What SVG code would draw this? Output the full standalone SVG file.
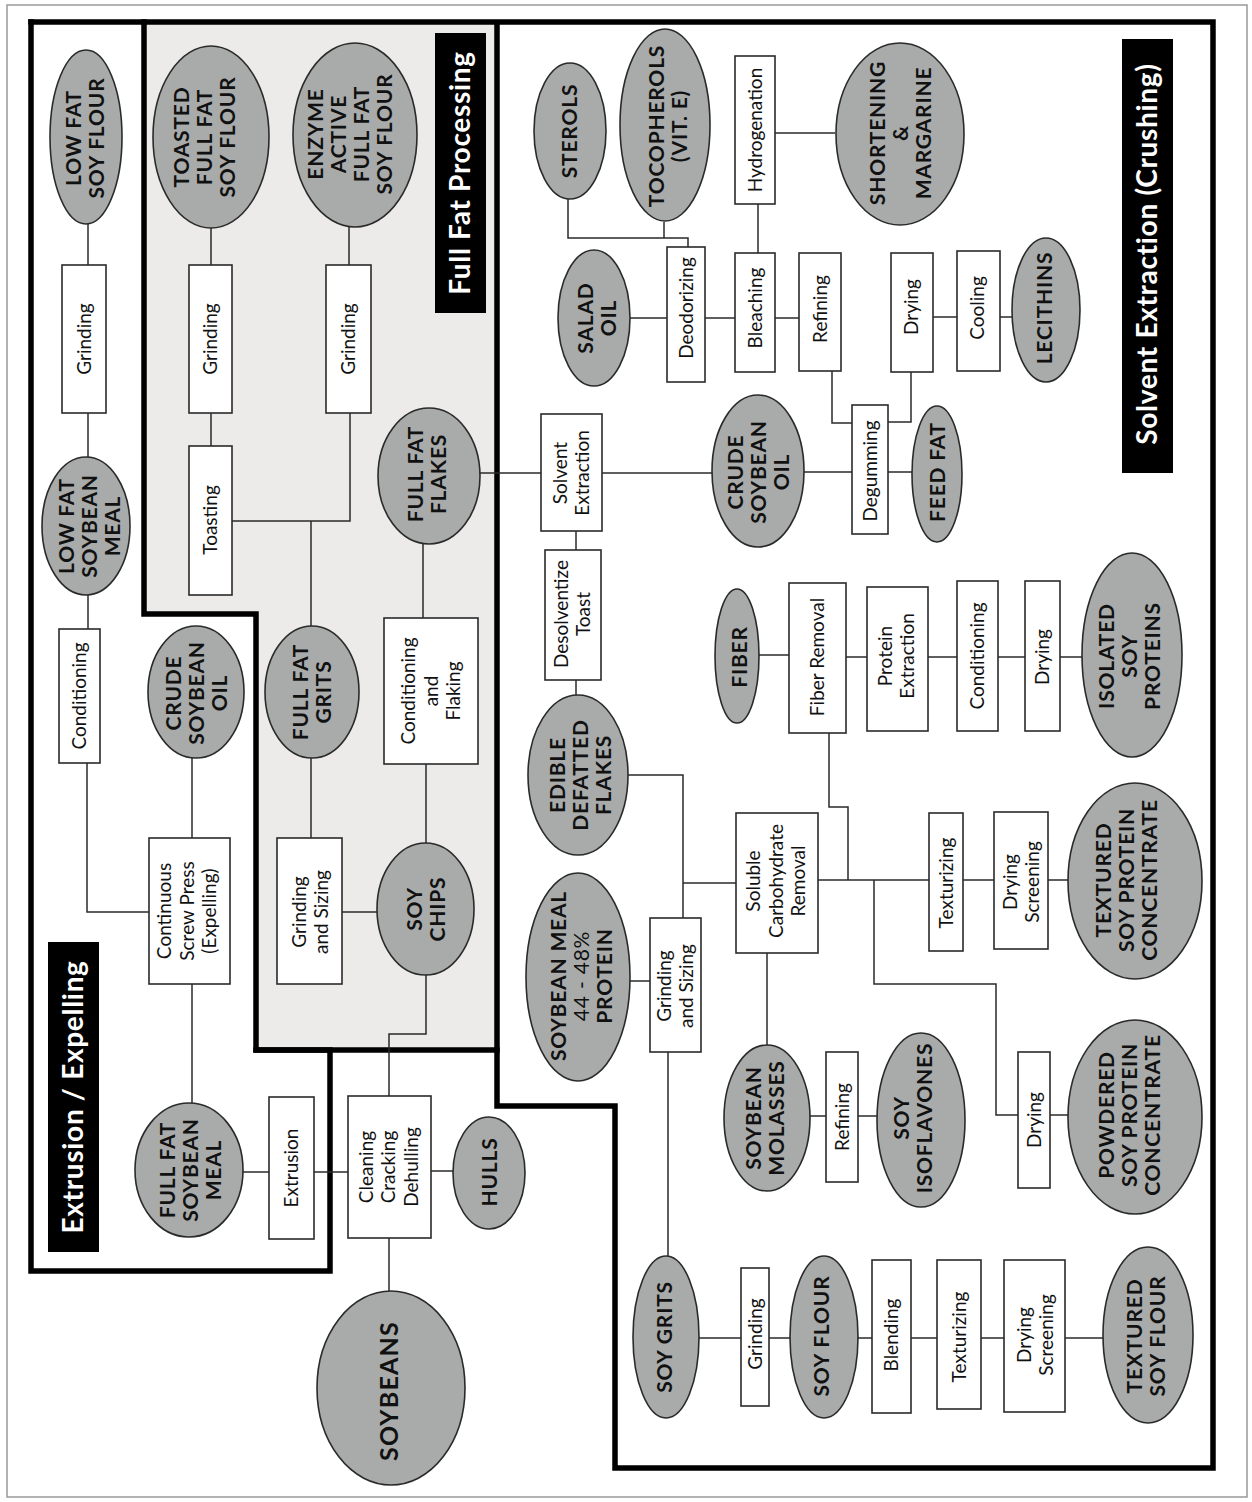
<svg xmlns="http://www.w3.org/2000/svg" width="1252" height="1502" viewBox="0 0 1252 1502">
<style>
.frame{fill:none;stroke:#000;stroke-width:5.5;stroke-linejoin:miter;stroke-linecap:square}
.el{fill:#a8abaa;stroke:#2a2a2a;stroke-width:1.6}
.bx{fill:#fff;stroke:#2a2a2a;stroke-width:1.6}
.c{fill:none;stroke:#2a2a2a;stroke-width:1.5}
.t{font-family:Lato,"Liberation Sans",sans-serif;text-anchor:middle;fill:#111}
.b{font-weight:700;font-size:21px;letter-spacing:0.8px}
.r{font-size:19px}
.ttl{font-family:Lato,"Liberation Sans",sans-serif;text-anchor:middle;font-weight:700;font-size:28px;fill:#fff;letter-spacing:0.7px}
</style>
<rect x="0" y="0" width="1252" height="1502" fill="#fff"/>
<rect x="7" y="5" width="1240" height="1492" fill="none" stroke="#999" stroke-width="1.5"/>
<g id="regions">
<polygon points="144,22 497,22 497,1050 256,1050 256,614 144,614" fill="#ecebe9"/>
<path class="frame" d="M31,22 H1213 V1468 H615 V1106 H497 V22"/>
<path class="frame" d="M144,22 V614 H256 V1050 H497"/>
<path class="frame" d="M256,1050 H330 V1271 H31 V22"/>
</g>
<g id="titles">
<g id="title-fullfat"><rect x="435" y="33" width="51" height="280" fill="#000"/><text class="ttl" transform="translate(460.5 173) rotate(-90)"><tspan x="0" y="9.8">Full Fat Processing</tspan></text></g>
<g id="title-solvent"><rect x="1122" y="39" width="51" height="434" fill="#000"/><text class="ttl" transform="translate(1147.5 254) rotate(-90)"><tspan x="0" y="9.8">Solvent Extraction (Crushing)</tspan></text></g>
<g id="title-extrusion"><rect x="48" y="942" width="51" height="310" fill="#000"/><text class="ttl" transform="translate(73.5 1097) rotate(-90)"><tspan x="0" y="9.8">Extrusion / Expelling</tspan></text></g>
</g>
<g id="connectors">
<polyline class="c" points="88,224 88,265"/>
<polyline class="c" points="88,413 88,457"/>
<polyline class="c" points="88,595 88,629"/>
<polyline class="c" points="87,763 87,912 149,912"/>
<polyline class="c" points="192,758 192,838"/>
<polyline class="c" points="192,984 192,1103"/>
<polyline class="c" points="211,228 211,265"/>
<polyline class="c" points="211,413 211,446"/>
<polyline class="c" points="232,521 350,521 350,413"/>
<polyline class="c" points="311,521 311,627"/>
<polyline class="c" points="349,227 349,265"/>
<polyline class="c" points="311,758 311,838"/>
<polyline class="c" points="342,912 377,912"/>
<polyline class="c" points="426,843 426,764"/>
<polyline class="c" points="423,618 423,543"/>
<polyline class="c" points="426,975 426,1034 389,1034 389,1096"/>
<polyline class="c" points="243,1172 269,1172"/>
<polyline class="c" points="314,1172 348,1172"/>
<polyline class="c" points="431,1171 453,1171"/>
<polyline class="c" points="389,1238 389,1291"/>
<polyline class="c" points="480,473 541,473"/>
<polyline class="c" points="602,473 713,473"/>
<polyline class="c" points="576,531 576,550"/>
<polyline class="c" points="576,680 576,695"/>
<polyline class="c" points="628,775 683,775 683,918"/>
<polyline class="c" points="683,883 736,883"/>
<polyline class="c" points="630,981 650,981"/>
<polyline class="c" points="668,1052 668,1256"/>
<polyline class="c" points="767,953 767,1045"/>
<polyline class="c" points="810,1116 826,1116"/>
<polyline class="c" points="858,1116 877,1116"/>
<polyline class="c" points="818,880 929,880"/>
<polyline class="c" points="829,733 829,807 848,807 848,880"/>
<polyline class="c" points="874,880 874,984 996,984 996,1115 1018,1115"/>
<polyline class="c" points="1050,1115 1069,1115"/>
<polyline class="c" points="963,880 994,880"/>
<polyline class="c" points="1048,880 1068,880"/>
<polyline class="c" points="758,655 789,655"/>
<polyline class="c" points="846,657 867,657"/>
<polyline class="c" points="928,657 957,657"/>
<polyline class="c" points="998,657 1025,657"/>
<polyline class="c" points="1060,657 1082,657"/>
<polyline class="c" points="804,472 852,472"/>
<polyline class="c" points="888,472 912,472"/>
<polyline class="c" points="832,371 832,423 852,423"/>
<polyline class="c" points="911,372 911,422 888,422"/>
<polyline class="c" points="933,317 957,317"/>
<polyline class="c" points="1000,317 1012,317"/>
<polyline class="c" points="630,318 667,318"/>
<polyline class="c" points="705,318 735,318"/>
<polyline class="c" points="775,318 799,318"/>
<polyline class="c" points="758,204 758,253"/>
<polyline class="c" points="775,133 835,133"/>
<polyline class="c" points="568,199 568,238 688,238 688,247"/>
<polyline class="c" points="664,222 664,238"/>
<polyline class="c" points="698,1338 741,1338"/>
<polyline class="c" points="769,1338 790,1338"/>
<polyline class="c" points="857,1338 872,1338"/>
<polyline class="c" points="911,1338 937,1338"/>
<polyline class="c" points="981,1338 1004,1338"/>
<polyline class="c" points="1065,1338 1103,1338"/>
</g>
<g id="n-lowfat-flour"><ellipse class="el" cx="86" cy="137" rx="36" ry="87"/><text class="t b" transform="translate(85 138) rotate(-90)"><tspan x="0" y="-4">LOW FAT</tspan><tspan x="0" y="19">SOY FLOUR</tspan></text></g>
<g id="n-toasted-flour"><ellipse class="el" cx="211" cy="137" rx="58" ry="91"/><text class="t b" transform="translate(204 137) rotate(-90)"><tspan x="0" y="-15.5">TOASTED</tspan><tspan x="0" y="7.5">FULL FAT</tspan><tspan x="0" y="30.5">SOY FLOUR</tspan></text></g>
<g id="n-enzyme-flour"><ellipse class="el" cx="355" cy="135" rx="62" ry="92"/><text class="t b" transform="translate(350 134) rotate(-90)"><tspan x="0" y="-27">ENZYME</tspan><tspan x="0" y="-4">ACTIVE</tspan><tspan x="0" y="19">FULL FAT</tspan><tspan x="0" y="42">SOY FLOUR</tspan></text></g>
<g id="n-grind1"><rect class="bx" x="62" y="265" width="44" height="148"/><text class="t r" transform="translate(84 339) rotate(-90)"><tspan x="0" y="6.7">Grinding</tspan></text></g>
<g id="n-grind2"><rect class="bx" x="189" y="265" width="43" height="148"/><text class="t r" transform="translate(210.5 339) rotate(-90)"><tspan x="0" y="6.7">Grinding</tspan></text></g>
<g id="n-grind3"><rect class="bx" x="326" y="265" width="45" height="148"/><text class="t r" transform="translate(348.5 339) rotate(-90)"><tspan x="0" y="6.7">Grinding</tspan></text></g>
<g id="n-toasting"><rect class="bx" x="189" y="446" width="43" height="149"/><text class="t r" transform="translate(210.5 520) rotate(-90)"><tspan x="0" y="6.7">Toasting</tspan></text></g>
<g id="n-lowfat-meal"><ellipse class="el" cx="86" cy="526" rx="44" ry="69"/><text class="t b" transform="translate(89 526) rotate(-90)"><tspan x="0" y="-15.5">LOW FAT</tspan><tspan x="0" y="7.5">SOYBEAN</tspan><tspan x="0" y="30.5">MEAL</tspan></text></g>
<g id="n-cond-ext"><rect class="bx" x="59" y="629" width="41" height="134"/><text class="t r" transform="translate(79.5 696) rotate(-90)"><tspan x="0" y="6.7">Conditioning</tspan></text></g>
<g id="n-crude-ext"><ellipse class="el" cx="196" cy="692" rx="48" ry="66"/><text class="t b" transform="translate(196 693) rotate(-90)"><tspan x="0" y="-15.5">CRUDE</tspan><tspan x="0" y="7.5">SOYBEAN</tspan><tspan x="0" y="30.5">OIL</tspan></text></g>
<g id="n-ff-grits"><ellipse class="el" cx="312" cy="692" rx="47" ry="66"/><text class="t b" transform="translate(312 692) rotate(-90)"><tspan x="0" y="-4">FULL FAT</tspan><tspan x="0" y="19">GRITS</tspan></text></g>
<g id="n-cond-flaking"><rect class="bx" x="384" y="618" width="94" height="146"/><text class="t r" transform="translate(431 691) rotate(-90)"><tspan x="0" y="-15.8">Conditioning</tspan><tspan x="0" y="6.7">and</tspan><tspan x="0" y="29.2">Flaking</tspan></text></g>
<g id="n-ff-flakes"><ellipse class="el" cx="429" cy="476" rx="51" ry="68"/><text class="t b" transform="translate(427 474) rotate(-90)"><tspan x="0" y="-4">FULL FAT</tspan><tspan x="0" y="19">FLAKES</tspan></text></g>
<g id="n-screwpress"><rect class="bx" x="149" y="838" width="81" height="146"/><text class="t r" transform="translate(187 911) rotate(-90)"><tspan x="0" y="-15.8">Continuous</tspan><tspan x="0" y="6.7">Screw Press</tspan><tspan x="0" y="29.2">(Expelling)</tspan></text></g>
<g id="n-grindsize-ff"><rect class="bx" x="277" y="838" width="65" height="146"/><text class="t r" transform="translate(310 912) rotate(-90)"><tspan x="0" y="-4.5">Grinding</tspan><tspan x="0" y="18">and Sizing</tspan></text></g>
<g id="n-soychips"><ellipse class="el" cx="425.5" cy="909" rx="48.5" ry="66"/><text class="t b" transform="translate(426 909) rotate(-90)"><tspan x="0" y="-4">SOY</tspan><tspan x="0" y="19">CHIPS</tspan></text></g>
<g id="n-ff-meal"><ellipse class="el" cx="189" cy="1170" rx="54" ry="67"/><text class="t b" transform="translate(190 1170) rotate(-90)"><tspan x="0" y="-15.5">FULL FAT</tspan><tspan x="0" y="7.5">SOYBEAN</tspan><tspan x="0" y="30.5">MEAL</tspan></text></g>
<g id="n-extrusion"><rect class="bx" x="269" y="1097" width="45" height="142"/><text class="t r" transform="translate(291.5 1168) rotate(-90)"><tspan x="0" y="6.7">Extrusion</tspan></text></g>
<g id="n-cleaning"><rect class="bx" x="348" y="1096" width="83" height="142"/><text class="t r" transform="translate(388.5 1167) rotate(-90)"><tspan x="0" y="-15.8">Cleaning</tspan><tspan x="0" y="6.7">Cracking</tspan><tspan x="0" y="29.2">Dehulling</tspan></text></g>
<g id="n-hulls"><ellipse class="el" cx="489" cy="1173" rx="36" ry="56"/><text class="t b" transform="translate(489 1172) rotate(-90)"><tspan x="0" y="7.5">HULLS</tspan></text></g>
<g id="n-soybeans"><ellipse class="el" cx="391" cy="1388" rx="74" ry="97"/><text class="t b" style="font-size:25px;letter-spacing:1.2px" transform="translate(389 1391) rotate(-90)"><tspan x="0" y="8.8">SOYBEANS</tspan></text></g>
<g id="n-solvext"><rect class="bx" x="541" y="414" width="61" height="117"/><text class="t r" transform="translate(571 473) rotate(-90)"><tspan x="0" y="-4.5">Solvent</tspan><tspan x="0" y="18">Extraction</tspan></text></g>
<g id="n-desolv"><rect class="bx" x="545" y="550" width="56" height="130"/><text class="t r" transform="translate(572 614) rotate(-90)"><tspan x="0" y="-4.5">Desolventize</tspan><tspan x="0" y="18">Toast</tspan></text></g>
<g id="n-crude-solv"><ellipse class="el" cx="758" cy="471" rx="46" ry="76"/><text class="t b" transform="translate(758 472) rotate(-90)"><tspan x="0" y="-15.5">CRUDE</tspan><tspan x="0" y="7.5">SOYBEAN</tspan><tspan x="0" y="30.5">OIL</tspan></text></g>
<g id="n-sterols"><ellipse class="el" cx="570" cy="131" rx="36" ry="68"/><text class="t b" transform="translate(569 131) rotate(-90)"><tspan x="0" y="7.5">STEROLS</tspan></text></g>
<g id="n-tocopherols"><ellipse class="el" cx="665" cy="125" rx="45" ry="96"/><text class="t b" transform="translate(668 126) rotate(-90)"><tspan x="0" y="-4">TOCOPHEROLS</tspan><tspan x="0" y="19">(VIT. E)</tspan></text></g>
<g id="n-hydrogenation"><rect class="bx" x="735" y="56" width="40" height="148"/><text class="t r" transform="translate(755 130) rotate(-90)"><tspan x="0" y="6.7">Hydrogenation</tspan></text></g>
<g id="n-shortening"><ellipse class="el" cx="900" cy="134" rx="64" ry="91"/><text class="t b" transform="translate(900 133) rotate(-90)"><tspan x="0" y="-15.5">SHORTENING</tspan><tspan x="0" y="7.5">&amp;</tspan><tspan x="0" y="30.5">MARGARINE</tspan></text></g>
<g id="n-salad"><ellipse class="el" cx="594" cy="318" rx="36" ry="68"/><text class="t b" transform="translate(597 318) rotate(-90)"><tspan x="0" y="-4">SALAD</tspan><tspan x="0" y="19">OIL</tspan></text></g>
<g id="n-deodorizing"><rect class="bx" x="667" y="247" width="38" height="135"/><text class="t r" transform="translate(686 308) rotate(-90)"><tspan x="0" y="6.7">Deodorizing</tspan></text></g>
<g id="n-bleaching"><rect class="bx" x="735" y="253" width="40" height="119"/><text class="t r" transform="translate(755 308) rotate(-90)"><tspan x="0" y="6.7">Bleaching</tspan></text></g>
<g id="n-refining-oil"><rect class="bx" x="799" y="253" width="42" height="118"/><text class="t r" transform="translate(820 309) rotate(-90)"><tspan x="0" y="6.7">Refining</tspan></text></g>
<g id="n-drying-lec"><rect class="bx" x="891" y="253" width="42" height="119"/><text class="t r" transform="translate(911 307) rotate(-90)"><tspan x="0" y="6.7">Drying</tspan></text></g>
<g id="n-cooling"><rect class="bx" x="957" y="251" width="43" height="120"/><text class="t r" transform="translate(977.5 308) rotate(-90)"><tspan x="0" y="6.7">Cooling</tspan></text></g>
<g id="n-lecithins"><ellipse class="el" cx="1046" cy="310" rx="34" ry="72"/><text class="t b" transform="translate(1044 308) rotate(-90)"><tspan x="0" y="7.5">LECITHINS</tspan></text></g>
<g id="n-degumming"><rect class="bx" x="852" y="405" width="36" height="129"/><text class="t r" transform="translate(870 471) rotate(-90)"><tspan x="0" y="6.7">Degumming</tspan></text></g>
<g id="n-feedfat"><ellipse class="el" cx="937" cy="474" rx="25" ry="68"/><text class="t b" transform="translate(937 472) rotate(-90)"><tspan x="0" y="7.5">FEED FAT</tspan></text></g>
<g id="n-fiber"><ellipse class="el" cx="737" cy="656" rx="22" ry="67"/><text class="t b" transform="translate(739 657) rotate(-90)"><tspan x="0" y="7.5">FIBER</tspan></text></g>
<g id="n-fiberremoval"><rect class="bx" x="789" y="583" width="57" height="150"/><text class="t r" transform="translate(817 657) rotate(-90)"><tspan x="0" y="6.7">Fiber Removal</tspan></text></g>
<g id="n-proteinext"><rect class="bx" x="867" y="587" width="61" height="144"/><text class="t r" transform="translate(896 656) rotate(-90)"><tspan x="0" y="-4.5">Protein</tspan><tspan x="0" y="18">Extraction</tspan></text></g>
<g id="n-cond-prot"><rect class="bx" x="957" y="581" width="41" height="150"/><text class="t r" transform="translate(977 656) rotate(-90)"><tspan x="0" y="6.7">Conditioning</tspan></text></g>
<g id="n-drying-prot"><rect class="bx" x="1025" y="581" width="35" height="150"/><text class="t r" transform="translate(1042 657) rotate(-90)"><tspan x="0" y="6.7">Drying</tspan></text></g>
<g id="n-isolated"><ellipse class="el" cx="1132" cy="655" rx="50" ry="102"/><text class="t b" transform="translate(1129 656) rotate(-90)"><tspan x="0" y="-15.5">ISOLATED</tspan><tspan x="0" y="7.5">SOY</tspan><tspan x="0" y="30.5">PROTEINS</tspan></text></g>
<g id="n-edible"><ellipse class="el" cx="578" cy="775" rx="50" ry="80"/><text class="t b" transform="translate(580 775) rotate(-90)"><tspan x="0" y="-15.5">EDIBLE</tspan><tspan x="0" y="7.5">DEFATTED</tspan><tspan x="0" y="30.5">FLAKES</tspan></text></g>
<g id="n-sbmeal"><ellipse class="el" cx="578" cy="977" rx="52" ry="104"/><text class="t b" transform="translate(581 976) rotate(-90)"><tspan x="0" y="-15.5">SOYBEAN MEAL</tspan><tspan x="0" y="7.5" style="font-weight:400">44 - 48%</tspan><tspan x="0" y="30.5">PROTEIN</tspan></text></g>
<g id="n-grindsize-solv"><rect class="bx" x="650" y="918" width="51" height="134"/><text class="t r" transform="translate(675 986) rotate(-90)"><tspan x="0" y="-4.5">Grinding</tspan><tspan x="0" y="18">and Sizing</tspan></text></g>
<g id="n-soluble"><rect class="bx" x="736" y="813" width="82" height="140"/><text class="t r" transform="translate(776 881) rotate(-90)"><tspan x="0" y="-15.8">Soluble</tspan><tspan x="0" y="6.7">Carbohydrate</tspan><tspan x="0" y="29.2">Removal</tspan></text></g>
<g id="n-texturizing-spc"><rect class="bx" x="929" y="813" width="34" height="138"/><text class="t r" transform="translate(946 883) rotate(-90)"><tspan x="0" y="6.7">Texturizing</tspan></text></g>
<g id="n-dryscreen-spc"><rect class="bx" x="994" y="812" width="54" height="137"/><text class="t r" transform="translate(1021 882) rotate(-90)"><tspan x="0" y="-4.5">Drying</tspan><tspan x="0" y="18">Screening</tspan></text></g>
<g id="n-tspc"><ellipse class="el" cx="1135" cy="881" rx="67" ry="98"/><text class="t b" transform="translate(1126 880) rotate(-90)"><tspan x="0" y="-15.5">TEXTURED</tspan><tspan x="0" y="7.5">SOY PROTEIN</tspan><tspan x="0" y="30.5">CONCENTRATE</tspan></text></g>
<g id="n-molasses"><ellipse class="el" cx="767" cy="1118" rx="43" ry="73"/><text class="t b" transform="translate(765 1118) rotate(-90)"><tspan x="0" y="-4">SOYBEAN</tspan><tspan x="0" y="19">MOLASSES</tspan></text></g>
<g id="n-refining-iso"><rect class="bx" x="826" y="1052" width="32" height="130"/><text class="t r" transform="translate(842 1117) rotate(-90)"><tspan x="0" y="6.7">Refining</tspan></text></g>
<g id="n-isoflavones"><ellipse class="el" cx="921" cy="1120" rx="44" ry="87"/><text class="t b" transform="translate(913 1118) rotate(-90)"><tspan x="0" y="-4">SOY</tspan><tspan x="0" y="19">ISOFLAVONES</tspan></text></g>
<g id="n-drying-pow"><rect class="bx" x="1018" y="1052" width="32" height="136"/><text class="t r" transform="translate(1034 1120) rotate(-90)"><tspan x="0" y="6.7">Drying</tspan></text></g>
<g id="n-pspc"><ellipse class="el" cx="1135" cy="1117" rx="67" ry="97"/><text class="t b" transform="translate(1129 1115) rotate(-90)"><tspan x="0" y="-15.5">POWDERED</tspan><tspan x="0" y="7.5">SOY PROTEIN</tspan><tspan x="0" y="30.5">CONCENTRATE</tspan></text></g>
<g id="n-soygrits"><ellipse class="el" cx="666" cy="1337" rx="33" ry="81"/><text class="t b" transform="translate(664 1337) rotate(-90)"><tspan x="0" y="7.5">SOY GRITS</tspan></text></g>
<g id="n-grind-flour"><rect class="bx" x="741" y="1268" width="28" height="138"/><text class="t r" transform="translate(755 1334) rotate(-90)"><tspan x="0" y="6.7">Grinding</tspan></text></g>
<g id="n-soyflour"><ellipse class="el" cx="824" cy="1337" rx="34" ry="81"/><text class="t b" transform="translate(821 1336) rotate(-90)"><tspan x="0" y="7.5">SOY FLOUR</tspan></text></g>
<g id="n-blending"><rect class="bx" x="872" y="1260" width="39" height="153"/><text class="t r" transform="translate(891.5 1335) rotate(-90)"><tspan x="0" y="6.7">Blending</tspan></text></g>
<g id="n-texturizing-flour"><rect class="bx" x="937" y="1260" width="44" height="149"/><text class="t r" transform="translate(959 1337) rotate(-90)"><tspan x="0" y="6.7">Texturizing</tspan></text></g>
<g id="n-dryscreen-flour"><rect class="bx" x="1004" y="1260" width="61" height="152"/><text class="t r" transform="translate(1035 1335) rotate(-90)"><tspan x="0" y="-4.5">Drying</tspan><tspan x="0" y="18">Screening</tspan></text></g>
<g id="n-tsf"><ellipse class="el" cx="1148" cy="1335" rx="45" ry="88"/><text class="t b" transform="translate(1146 1336) rotate(-90)"><tspan x="0" y="-4">TEXTURED</tspan><tspan x="0" y="19">SOY FLOUR</tspan></text></g>
</svg>
